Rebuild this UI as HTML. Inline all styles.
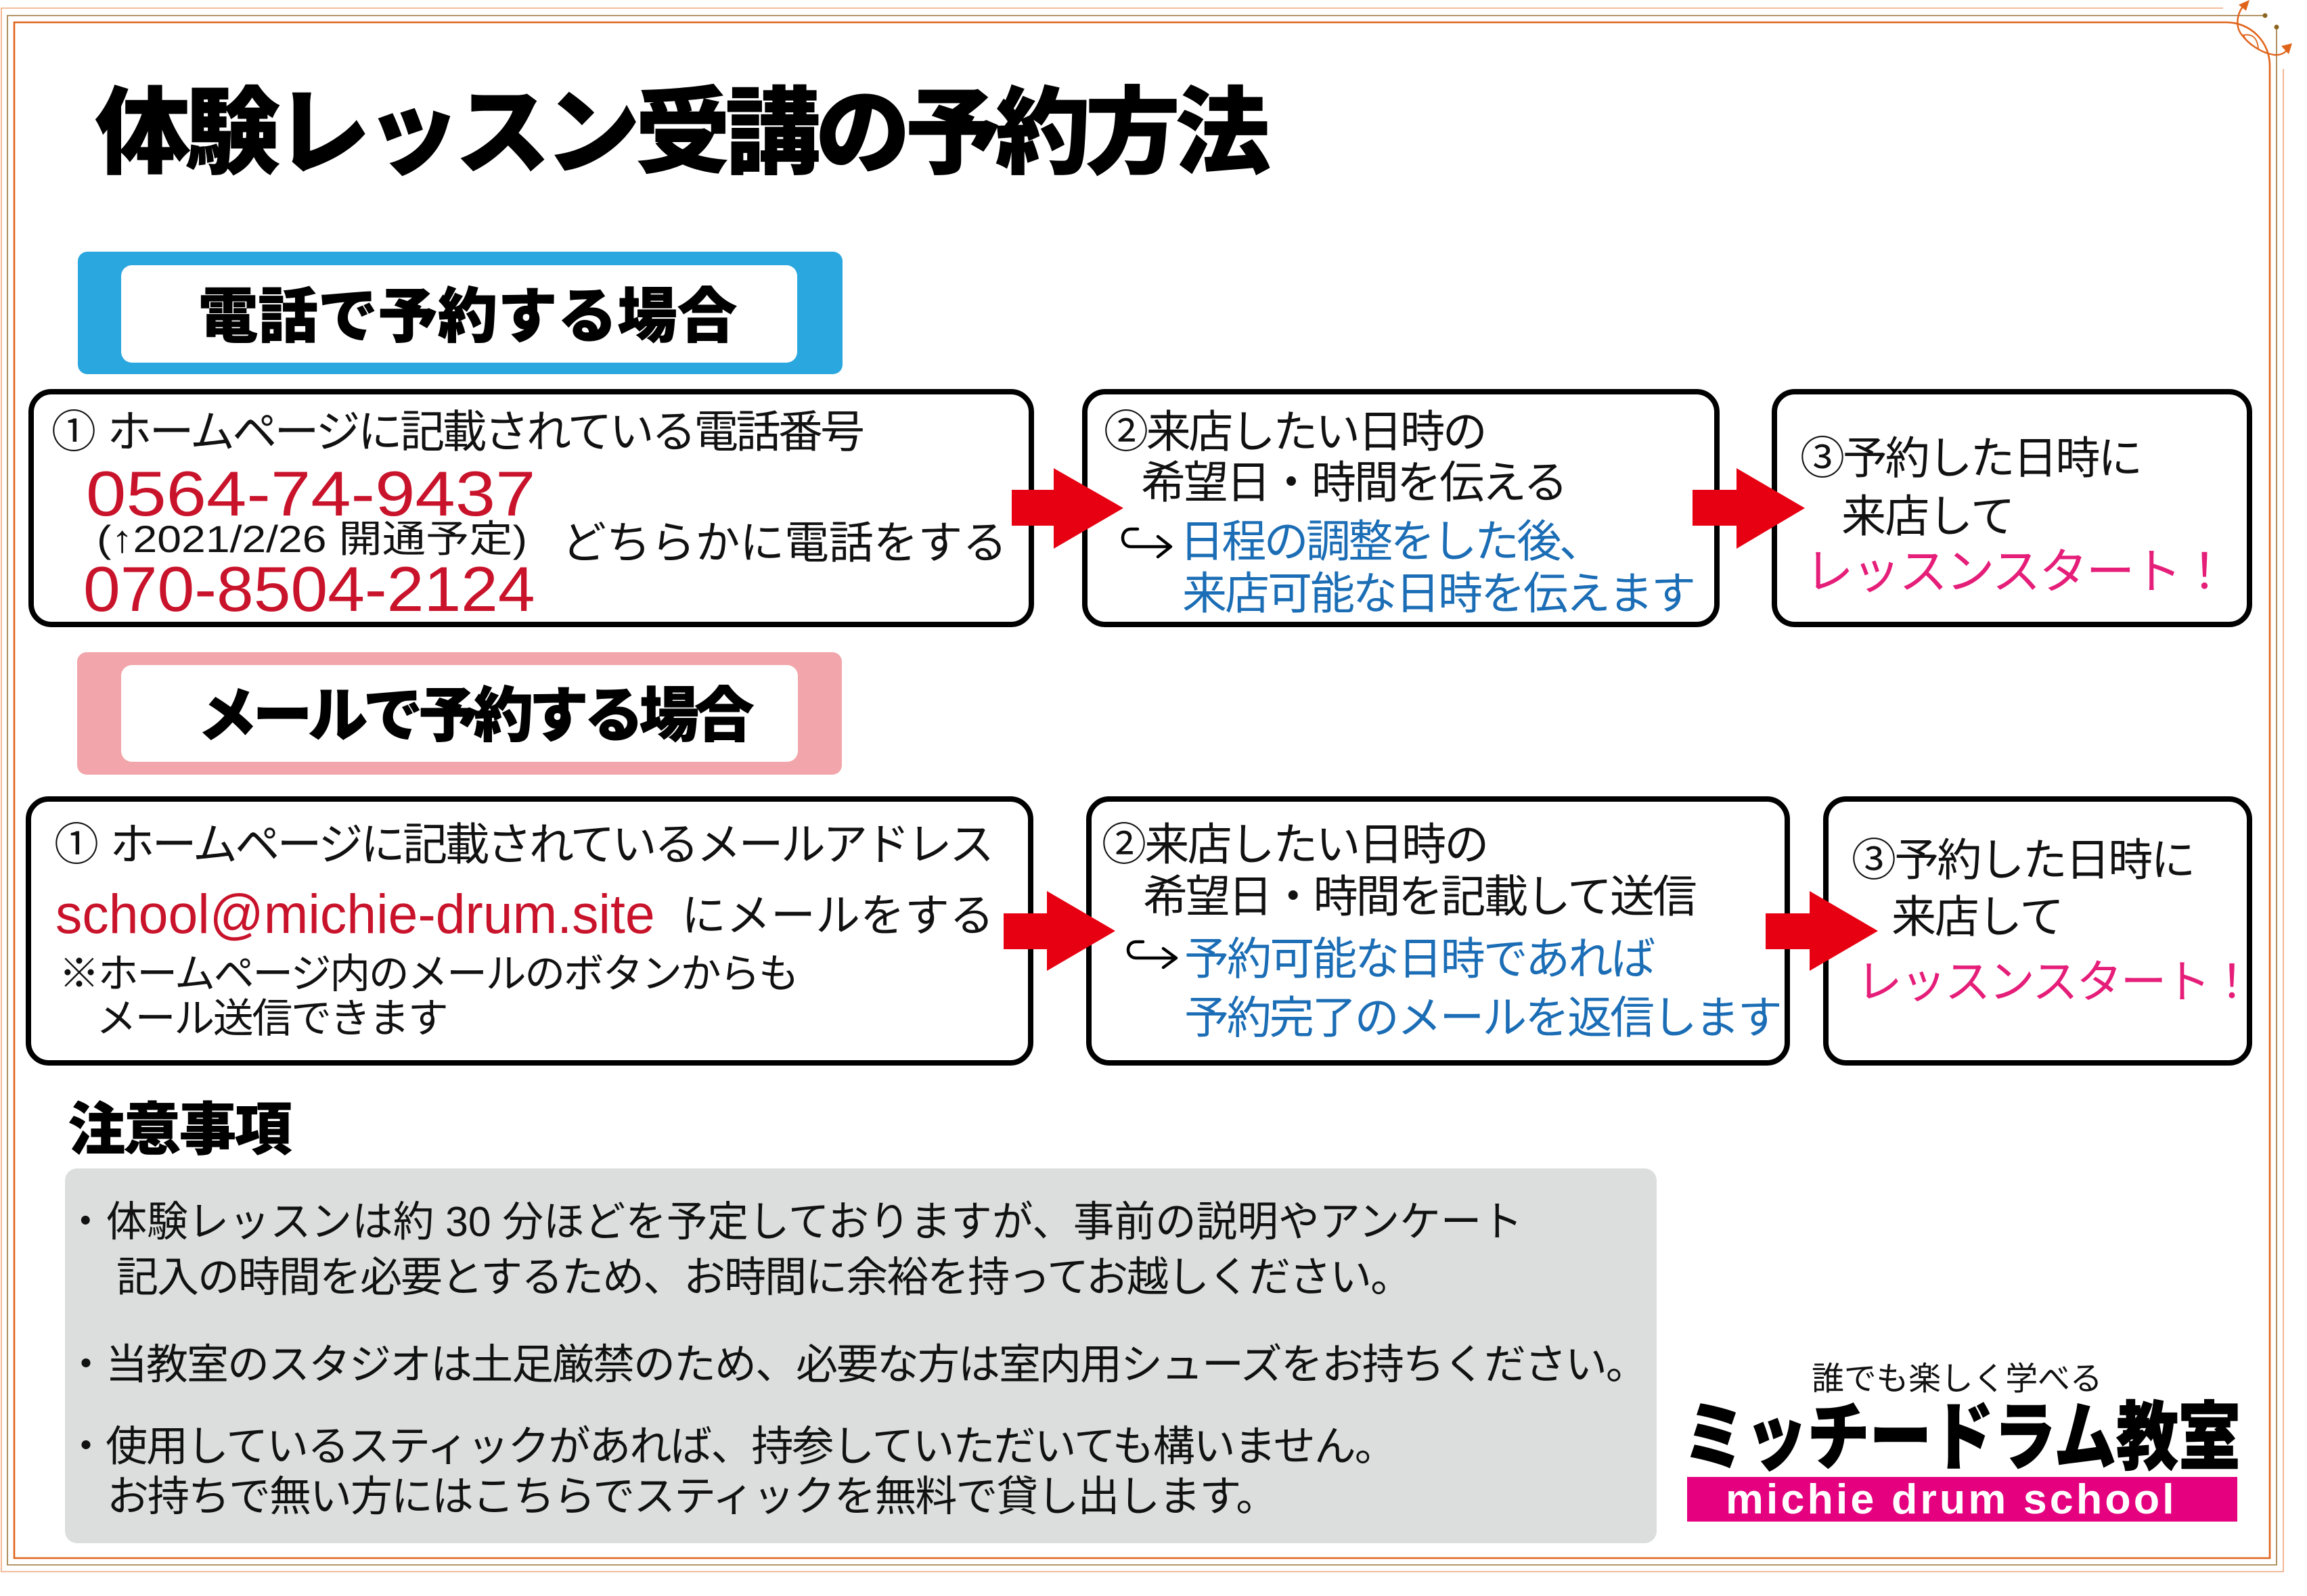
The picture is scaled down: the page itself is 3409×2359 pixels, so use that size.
<!DOCTYPE html>
<html lang="ja">
<head>
<meta charset="utf-8">
<style>
html,body{margin:0;padding:0;background:#fff;}
body{width:3409px;height:2359px;position:relative;overflow:hidden;}
svg.bg{position:absolute;left:0;top:0;}
.t{position:absolute;white-space:nowrap;line-height:1;font-family:"Liberation Sans","Noto Sans CJK JP",sans-serif;color:#111;transform-origin:0 0;font-weight:400;}
.hv{font-weight:900;-webkit-text-stroke:1px #000;color:#000;}
.bl{color:#1b6db5;}
.pk{color:#e51e79;}
.rd{color:#c8132b;}
</style>
</head>
<body>
<svg class="bg" width="3409" height="2359" viewBox="0 0 3409 2359" xmlns="http://www.w3.org/2000/svg">
  <path d="M3285 12 H2 V2323 H3374 V102" stroke="#efa57a" stroke-width="1.6" fill="none"/>
  <path d="M3347 23 H11 V2313 H3364 V40" stroke="#9c7436" stroke-width="1.6" fill="none"/>
  <circle cx="3347" cy="23" r="3.5" fill="#8c6420"/>
  <circle cx="3364" cy="40" r="3.5" fill="#8c6420"/>
  <path d="M3290 33 H21 V2303 H3354 V97 A64 64 0 0 0 3290 33" stroke="#e0631a" stroke-width="2.6" fill="none"/>
  <path d="M3318 5 C3304 20 3303 40 3313 52 C3322 64 3340 78 3360 81 C3370 82 3377 78 3381 72" stroke="#e0631a" stroke-width="2.4" fill="none"/>
  <path d="M3315 52 Q3335 48 3337 72 Q3322 66 3315 52 Z" stroke="#e0631a" stroke-width="1.8" fill="none"/>
  <polygon points="3324,0 3308,7 3319,16" fill="#e0631a"/>
  <polygon points="3387,64 3371,68 3382,80" fill="#e0631a"/>

  <rect x="115" y="372" width="1130" height="181" rx="14" fill="#2aa7df"/>
  <rect x="179" y="392" width="999" height="144" rx="16" fill="#fff"/>
  <rect x="114" y="964" width="1130" height="181" rx="14" fill="#f2a5aa"/>
  <rect x="179" y="983" width="1000" height="143" rx="16" fill="#fff"/>

  <rect x="96" y="1727" width="2352" height="554" rx="18" fill="#dcdddd"/>

  <rect x="2493" y="2183" width="813" height="66" fill="#e4007f"/>

  <rect x="46" y="579" width="1478" height="344" rx="30" fill="#fff" stroke="#000" stroke-width="8"/>
  <rect x="1603" y="579" width="934" height="344" rx="30" fill="#fff" stroke="#000" stroke-width="8"/>
  <rect x="2622" y="579" width="702" height="344" rx="30" fill="#fff" stroke="#000" stroke-width="8"/>
  <rect x="42" y="1181" width="1481" height="390" rx="30" fill="#fff" stroke="#000" stroke-width="8"/>
  <rect x="1609" y="1181" width="1032" height="390" rx="30" fill="#fff" stroke="#000" stroke-width="8"/>
  <rect x="2698" y="1181" width="626" height="390" rx="30" fill="#fff" stroke="#000" stroke-width="8"/>

  <polygon points="1495,724 1557,724 1557,692 1660,751 1557,811 1557,777 1495,777" fill="#e60012"/>
  <polygon points="2501,724 2566,724 2566,692 2667,751 2566,811 2566,777 2501,777" fill="#e60012"/>
  <polygon points="1483,1350 1547,1350 1547,1317 1648,1376 1547,1435 1547,1403 1483,1403" fill="#e60012"/>
  <polygon points="2609,1350 2674,1350 2674,1317 2775,1376 2674,1435 2674,1403 2609,1403" fill="#e60012"/>

  <path d="M1681 782 H1671 C1655 782 1655 808 1671 808 H1729 M1711 793 L1730 808 L1711 823" stroke="#000" stroke-width="4.5" fill="none" stroke-linecap="round" stroke-linejoin="round"/>
  <path d="M1689 1392 H1679 C1663 1392 1663 1416 1679 1416 H1737 M1719 1402 L1738 1416 L1719 1430" stroke="#000" stroke-width="4.5" fill="none" stroke-linecap="round" stroke-linejoin="round"/>
</svg>

<div class="t hv" style="left:141px;top:127px;font-size:140px;letter-spacing:-7px;-webkit-text-stroke:1.2px #000;">体験レッスン受講の予約方法</div>

<div class="t hv" style="left:293px;top:424px;font-size:88px;letter-spacing:0.5px;">電話で予約する場合</div>
<div class="t hv" style="left:292px;top:1014px;font-size:88px;letter-spacing:-6.4px;">メールで予約する場合</div>

<div class="t" style="left:76px;top:605px;font-size:66px;letter-spacing:-3.7px;"><span style="margin-right:20px">①</span>ホームページに記載されている電話番号</div>
<div class="t rd fit" style="left:127px;top:683px;font-size:94px;--w:664;transform:scaleX(1.13);">0564-74-9437</div>
<div class="t fit" style="left:143px;top:769px;font-size:56px;--w:636;transform:scaleX(0.92);">(↑2021/2/26 開通予定)</div>
<div class="t" style="left:830px;top:769px;font-size:66px;letter-spacing:-0.2px;">どちらかに電話をする</div>
<div class="t rd fit" style="left:123px;top:824px;font-size:94px;--w:668;transform:scaleX(1.04);">070-8504-2124</div>

<div class="t" style="left:1631px;top:605px;font-size:66px;letter-spacing:-3.4px;">②来店したい日時の</div>
<div class="t" style="left:1686px;top:680px;font-size:66px;letter-spacing:-3px;">希望日・時間を伝える</div>
<div class="t bl" style="left:1743px;top:767px;font-size:66px;letter-spacing:-3.7px;">日程の調整をした後、</div>
<div class="t bl" style="left:1747px;top:844px;font-size:66px;letter-spacing:-3px;">来店可能な日時を伝えます</div>

<div class="t" style="left:2660px;top:644px;font-size:66px;letter-spacing:-3.1px;">③予約した日時に</div>
<div class="t" style="left:2721px;top:730px;font-size:66px;letter-spacing:-1.8px;">来店して</div>
<div class="t pk" style="left:2667px;top:810px;font-size:72px;letter-spacing:-2.5px;">レッスンスタート！</div>

<div class="t" style="left:80px;top:1215px;font-size:66px;letter-spacing:-3.7px;"><span style="margin-right:20px">①</span>ホームページに記載されているメールアドレス</div>
<div class="t rd fit" style="left:82px;top:1311px;font-size:82px;--w:886;transform:scaleX(0.955);">school@michie-drum.site</div>
<div class="t" style="left:1007px;top:1320px;font-size:66px;letter-spacing:0px;">にメールをする</div>
<div class="t" style="left:87px;top:1410px;font-size:60px;letter-spacing:-2.4px;">※ホームページ内のメールのボタンからも</div>
<div class="t" style="left:142px;top:1476px;font-size:60px;letter-spacing:-2.4px;">メール送信できます</div>

<div class="t" style="left:1628px;top:1215px;font-size:66px;letter-spacing:-2.7px;">②来店したい日時の</div>
<div class="t" style="left:1689px;top:1292px;font-size:66px;letter-spacing:-3.1px;">希望日・時間を記載して送信</div>
<div class="t bl" style="left:1750px;top:1384px;font-size:66px;letter-spacing:-2.9px;">予約可能な日時であれば</div>
<div class="t bl" style="left:1750px;top:1471px;font-size:66px;letter-spacing:-3.1px;">予約完了のメールを返信します</div>

<div class="t" style="left:2736px;top:1238px;font-size:66px;letter-spacing:-2.8px;">③予約した日時に</div>
<div class="t" style="left:2795px;top:1322px;font-size:66px;letter-spacing:-2.3px;">来店して</div>
<div class="t pk" style="left:2743px;top:1418px;font-size:68px;letter-spacing:-2.7px;">レッスンスタート！</div>

<div class="t hv" style="left:101px;top:1628px;font-size:84px;letter-spacing:-2px;">注意事項</div>
<div class="t fit" style="left:96px;top:1776px;font-size:62px;--w:2154;transform:scaleX(0.974);">・体験レッスンは約 30 分ほどを予定しておりますが、事前の説明やアンケート</div>
<div class="t" style="left:172px;top:1858px;font-size:62px;letter-spacing:-2px;">記入の時間を必要とするため、お時間に余裕を持ってお越しください。</div>
<div class="t" style="left:96px;top:1987px;font-size:62px;letter-spacing:-2px;">・当教室のスタジオは土足厳禁のため、必要な方は室内用シューズをお持ちください。</div>
<div class="t" style="left:96px;top:2108px;font-size:62px;letter-spacing:-2px;">・使用しているスティックがあれば、持参していただいても構いません。</div>
<div class="t" style="left:158px;top:2182px;font-size:62px;letter-spacing:-2px;">お持ちで無い方にはこちらでスティックを無料で貸し出します。</div>

<div class="t" style="left:2677px;top:2015px;font-size:48px;letter-spacing:-0.3px;">誰でも楽しく学べる</div>
<div class="t hv fit" style="left:2487px;top:2071px;font-size:110px;--w:824;transform:scaleX(0.832);-webkit-text-stroke:1.5px #000;">ミッチードラム教室</div>
<div class="t fit" style="left:2550px;top:2186px;font-size:62px;font-weight:700;color:#fff;letter-spacing:4px;--w:667;transform:scaleX(1.02);">michie drum school</div>

<script>
function fitAll(){
  var els=document.querySelectorAll('.fit');
  for(var i=0;i<els.length;i++){
    var e=els[i];
    var w=parseFloat(getComputedStyle(e).getPropertyValue('--w'));
    var r=e.offsetWidth;
    if(r>0&&w>0){e.style.transform='scaleX('+(w/r)+')';}
  }
}
fitAll();
if(document.fonts&&document.fonts.ready){document.fonts.ready.then(fitAll);}
window.addEventListener('load',fitAll);
</script>
</body>
</html>
